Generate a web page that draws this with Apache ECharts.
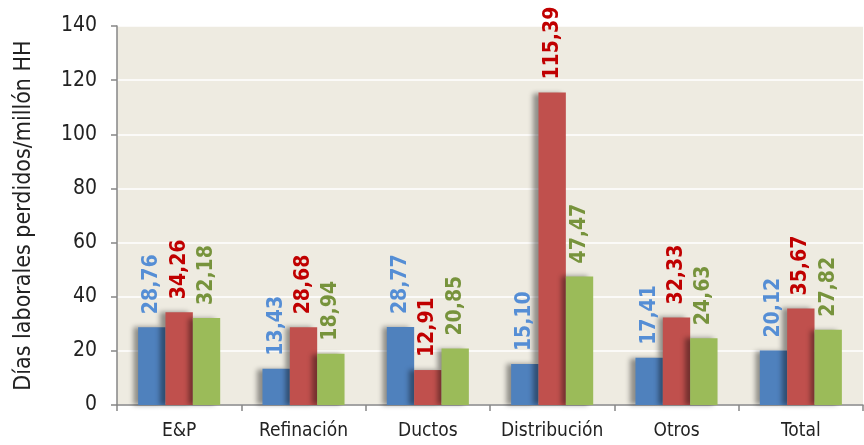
<!DOCTYPE html>
<html>
<head>
<meta charset="utf-8">
<script src="https://cdn.jsdelivr.net/npm/echarts@6/dist/echarts.min.js"></script>
<style>
  html, body { margin: 0; padding: 0; background: #fff; }
  #chart { width: 864px; height: 445px; }
</style>
</head>
<body>
<div id="chart"></div>
<script>
const categories = ["E&P", "Refinación", "Ductos", "Distribución", "Otros", "Total"];
const serieAzul = [28.76, 13.43, 28.77, 15.10, 17.41, 20.12];
const serieRoja = [34.26, 28.68, 12.91, 115.39, 32.33, 35.67];
const serieVerde = [32.18, 18.94, 20.85, 47.47, 24.63, 27.82];
const yTicks = { min: 0, max: 140, interval: 20 };

const chart = echarts.init(document.getElementById("chart"));

// etiqueta vertical encima de cada barra, con coma decimal
function etiqueta(color) {
  return {
    show: true,
    position: "top",
    rotate: 90,
    align: "left",
    verticalAlign: "middle",
    distance: 13,
    color: color,
    fontFamily: "DejaVu Sans Condensed",
    fontWeight: "bold",
    fontSize: 21,
    formatter: (p) => p.value.toFixed(2).replace(".", ","),
  };
}

function serie(data, barColor, labelColor) {
  return {
    type: "bar",
    data: data,
    barGap: "0%",
    barCategoryGap: "34%",
    itemStyle: {
      color: barColor,
      shadowColor: "rgba(0,0,0,0.4)",
      shadowBlur: 5,
      shadowOffsetX: -5,
      shadowOffsetY: 0,
    },
    label: etiqueta(labelColor),
  };
}

chart.setOption({
  backgroundColor: "#ffffff",
  animation: false,
  grid: {
    left: 117,
    right: 1,
    top: 26,
    bottom: 40,
    show: true,
    backgroundColor: "#EEEBE1",
    borderWidth: 0,
  },
  xAxis: {
    type: "category",
    data: categories,
    axisLine: { lineStyle: { color: "#868686", width: 1.5 } },
    axisTick: { show: true, length: 6, lineStyle: { color: "#868686", width: 1.5 } },
    axisLabel: {
      interval: 0,
      color: "#222",
      fontFamily: "DejaVu Sans Condensed",
      fontSize: 19,
      margin: 17,
    },
  },
  yAxis: {
    type: "value",
    min: yTicks.min,
    max: yTicks.max,
    interval: yTicks.interval,
    name: "Días laborales perdidos/millón HH",
    nameLocation: "middle",
    nameGap: 81,
    nameTextStyle: { color: "#222", fontFamily: "DejaVu Sans Condensed", fontSize: 23 },
    axisLine: { show: true, lineStyle: { color: "#868686", width: 1.5 } },
    axisTick: { show: true, length: 6, lineStyle: { color: "#868686", width: 1.5 } },
    axisLabel: {
      color: "#222",
      fontFamily: "DejaVu Sans Condensed",
      fontSize: 21,
      margin: 20,
    },
    splitLine: { lineStyle: { color: "#ffffff", width: 1.5 } },
  },
  series: [
    serie(serieAzul, "#4F81BD", "#558ED5"),
    serie(serieRoja, "#C0504D", "#C00000"),
    serie(serieVerde, "#9BBB59", "#77933C"),
  ],
});
</script>
</body>
</html>
